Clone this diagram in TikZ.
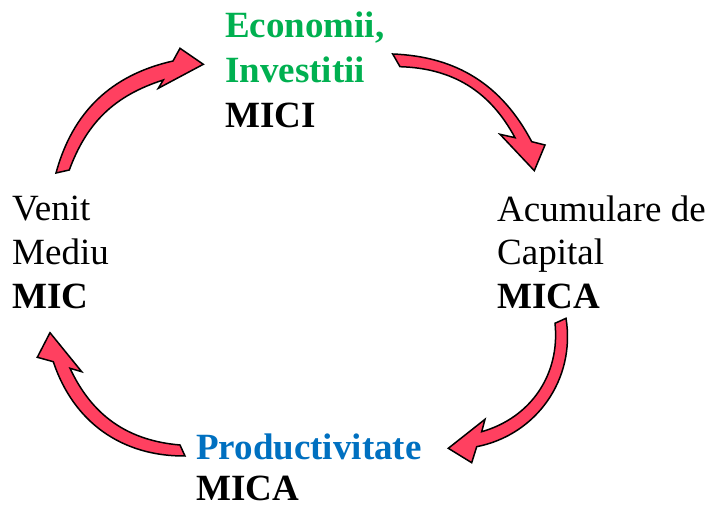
\documentclass[tikz,border=0pt]{standalone}
\usepackage{fontspec}
\setmainfont{Liberation Serif}
\definecolor{arrowred}{RGB}{255,64,96}
\definecolor{ecogreen}{RGB}{0,176,80}
\definecolor{prodblue}{RGB}{0,112,192}
\begin{document}
\begin{tikzpicture}[x=1pt,y=1pt,
  lbl/.style={anchor=base west, inner sep=0pt, font=\fontsize{37}{44}\selectfont},
  lblb/.style={anchor=base west, inner sep=0pt, font=\fontsize{37}{44}\selectfont\bfseries},
  blockarrow/.style={fill=arrowred, draw=black, line width=1.5pt, line join=miter}]
\useasboundingbox (0,0) rectangle (712,510);

% curved block arrows (clockwise cycle)
\filldraw[blockarrow] (56,337) to[bend left=31] (173,449) -- (180,461.7) -- (203.3,445.7)
  -- (158.3,421.7) -- (163.3,430) to[bend right=26] (69.3,340) -- cycle;
\filldraw[blockarrow] (392.7,456) to[bend left=30] (531.7,368.3) -- (545,365) -- (534.3,339.3)
  -- (500,375.7) -- (515,372.3) to[bend right=30] (400,443.3) -- cycle;
\filldraw[blockarrow] (566,191.7) to[bend left=44] (476.7,63.3) -- (471.7,47.3) -- (448.3,61.7)
  -- (485,90.7) -- (481.7,78.3) to[bend right=40] (555,186.7) -- cycle;
\filldraw[blockarrow] (185,54) to[bend left=36] (53.3,148.3) -- (37.3,152.7) -- (50,177.3)
  -- (81.7,138.3) -- (70,141.7) to[bend right=30] (180,65) -- cycle;

% top
\node[lblb, text=ecogreen] (eco) at (225,472) {Economii,};
\node[lblb, text=ecogreen] (inv) at (225,427) {Investitii};
\node[lblb] (mici) at (225,382) {MICI};
% right
\node[lbl] (acu) at (497,288) {Acumulare de};
\node[lbl] (cap) at (497,245) {Capital};
\node[lblb] (mica1) at (497,201) {MICA};
% left
\node[lbl] (venit) at (12,289) {Venit};
\node[lbl] (mediu) at (12,245) {Mediu};
\node[lblb] (mic) at (12,201) {MIC};
% bottom
\node[lblb, text=prodblue] (prod) at (196,50) {Productivitate};
\node[lblb] (mica2) at (196,9.5) {MICA};
\end{tikzpicture}
\end{document}
